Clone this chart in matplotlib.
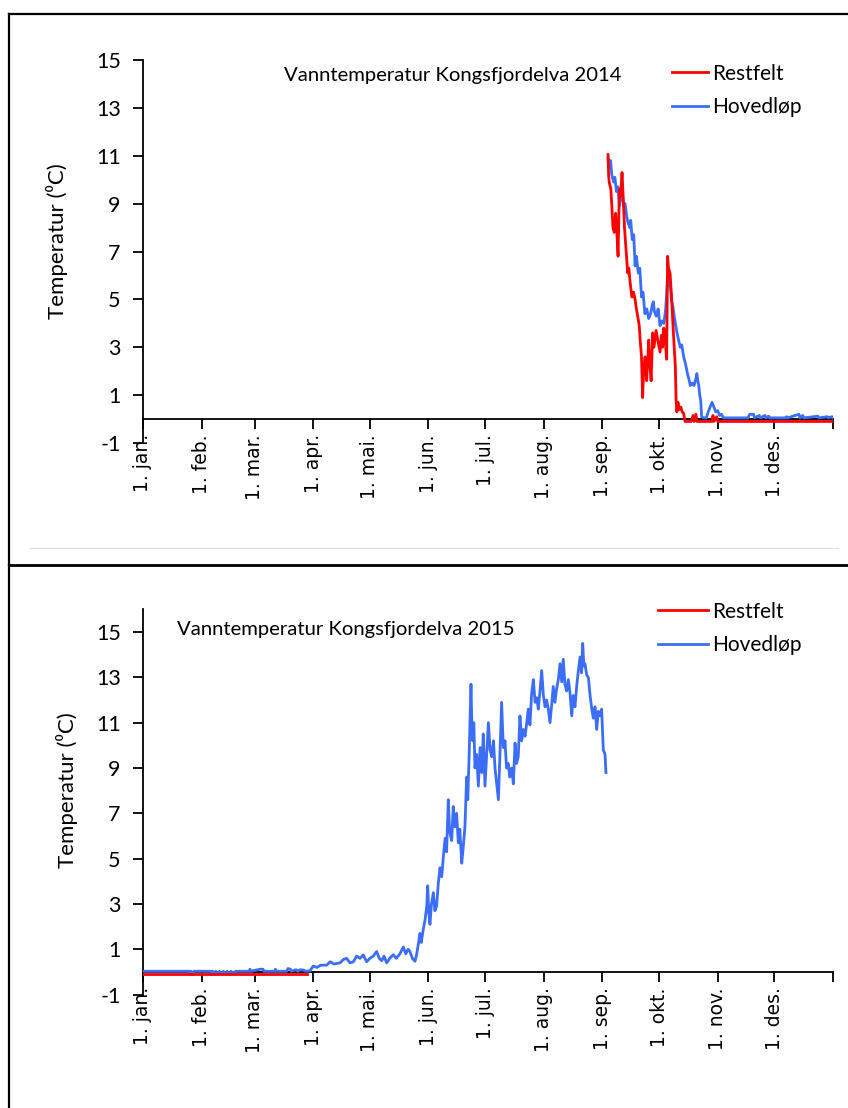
import matplotlib
matplotlib.use("Agg")
import matplotlib.pyplot as plt
from matplotlib.lines import Line2D

# Data (day of year from 1. jan = 0, temperature in deg C)
maaneder = ["1. jan.", "1. feb.", "1. mar.", "1. apr.", "1. mai.", "1. jun.",
            "1. jul.", "1. aug.", "1. sep.", "1. okt.", "1. nov.", "1. des.", ""]
maaned_start = [0, 31, 59, 90, 120, 151, 181, 212, 243, 273, 304, 334, 365]
y_ticks = [-1, 1, 3, 5, 7, 9, 11, 13, 15]

# 2014 - Restfelt
rest14_dag = [246.0, 246.3, 246.6, 247.5, 248.0, 248.6, 249.3, 250.0, 250.6, 251.3,
              252.0, 252.6, 253.4, 254.0, 254.7, 255.5, 256.4, 257.0, 257.7, 258.6,
              259.5, 260.3, 261.0, 261.9, 262.5, 263.0, 263.7, 264.3, 264.8, 265.6,
              266.4, 267.0, 267.5, 268.1, 268.8, 269.6, 270.3, 271.4, 272.3, 273.5,
              274.2, 274.8, 275.5, 276.2, 277.0, 277.5, 278.0, 278.8, 279.6, 280.3,
              281.0, 281.6, 282.0, 282.4, 283.0, 283.6, 284.5, 285.2, 286.0, 286.7,
              290.0, 291.0, 291.5, 292.5, 293.0, 301.0, 301.5, 302.0, 303.5, 304.0,
              365.0]
rest14_temp = [11.05, 10.2, 9.9, 9.6, 8.9, 8.0, 7.8, 8.6, 7.9, 6.8,
               9.6, 9.3, 10.3, 9.3, 8.0, 7.1, 6.1, 6.3, 5.7, 5.1,
               5.3, 5.0, 4.6, 4.2, 3.9, 3.3, 2.6, 0.9, 2.0, 2.6,
               1.6, 2.4, 3.3, 2.3, 1.6, 3.6, 3.0, 3.7, 3.3, 2.8,
               3.5, 3.0, 3.8, 3.3, 2.5, 6.8, 6.3, 6.1, 5.1, 4.0,
               3.0, 2.2, 0.8, 0.3, 0.7, 0.4, 0.5, 0.3, 0.25, -0.1,
               -0.1, 0.15, -0.1, 0.2, -0.1, -0.1, 0.15, -0.1, 0.1, -0.1,
               -0.1]

# 2014 - Hovedløp
hoved14_dag = [246.0, 246.5, 247.3, 248.0, 249.0, 249.6, 250.5, 251.3, 252.0, 252.8,
               253.5, 254.3, 255.0, 256.0, 256.6, 257.5, 258.0, 258.8, 259.6, 260.3,
               261.0, 262.0, 262.8, 263.7, 264.5, 265.5, 266.5, 267.5, 268.5, 269.5,
               270.0, 270.5, 271.5, 272.5, 273.5, 274.5, 275.5, 276.5, 277.5, 278.2,
               278.8, 279.5, 280.3, 281.0, 281.8, 282.5, 283.3, 284.2, 285.0, 286.0,
               287.0, 288.0, 289.0, 289.5, 290.5, 291.5, 292.5, 293.0, 293.5, 294.0,
               294.5, 295.0, 295.5, 296.5, 298.0, 299.0, 300.0, 301.0, 302.0, 303.0,
               304.0, 305.0, 306.0, 307.0, 320.0, 321.0, 323.0, 323.5, 326.0, 326.5,
               329.0, 329.5, 331.0, 331.5, 340.0, 340.5, 341.0, 347.0, 347.5, 349.0,
               349.5, 357.0, 357.5, 362.0, 362.5, 364.5, 365.0]
hoved14_temp = [10.9, 10.5, 10.8, 10.2, 9.9, 10.1, 9.5, 9.7, 8.9, 9.3,
                9.4, 8.9, 9.0, 8.4, 8.2, 8.0, 8.3, 7.5, 7.7, 6.4,
                6.8, 6.1, 6.3, 5.1, 5.3, 4.4, 4.6, 4.2, 4.4, 4.8,
                4.9, 4.5, 4.3, 4.6, 3.9, 4.1, 4.0, 4.6, 5.95, 5.6,
                5.7, 5.0, 4.7, 4.3, 3.9, 3.6, 3.3, 3.0, 3.1, 2.6,
                2.3, 1.9, 1.6, 1.4, 1.5, 1.4, 1.7, 1.9, 1.6, 1.4,
                1.0, 0.8, 0.1, 0.05, 0.05, 0.3, 0.5, 0.7, 0.5, 0.3,
                0.35, 0.15, 0.2, 0.05, 0.05, 0.2, 0.2, 0.05, 0.15, 0.05,
                0.15, 0.05, 0.12, 0.05, 0.05, 0.1, 0.05, 0.2, 0.05, 0.15,
                0.05, 0.12, 0.05, 0.1, 0.05, 0.1, 0.05]

# 2015 - Restfelt
rest15_dag = [0.0, 86.5]
rest15_temp = [-0.1, -0.1]

# 2015 - Hovedløp
hoved15_dag = [0.0, 24.5, 25.0, 25.5, 26.5, 27.0, 36.0, 36.3, 37.0, 38.0,
               38.5, 40.0, 40.5, 42.0, 42.5, 44.0, 44.5, 46.0, 46.5, 48.5,
               49.0, 56.3, 56.6, 57.0, 62.0, 63.5, 64.0, 69.7, 70.0, 70.5,
               76.0, 76.7, 78.0, 78.5, 81.0, 82.0, 83.0, 85.0, 86.0, 88.3,
               90.1, 92.0, 94.0, 97.2, 99.0, 101.0, 104.2, 106.0, 107.7, 109.5,
               111.3, 113.0, 114.8, 116.5, 118.3, 120.0, 121.8, 123.6, 125.0, 126.3,
               127.5, 128.9, 130.5, 132.4, 134.0, 135.9, 137.7, 139.0, 140.2, 141.2,
               142.5, 143.9, 144.8, 145.6, 146.5, 147.2, 148.3, 149.2, 150.1, 150.6,
               151.2, 151.8, 152.6, 153.6, 154.4, 155.3, 156.2, 157.1, 158.0, 158.9,
               159.8, 160.6, 161.5, 162.2, 163.3, 164.1, 165.0, 165.9, 166.8, 167.6,
               168.6, 169.4, 170.3, 171.2, 171.8, 172.5, 173.5, 174.0, 174.4, 175.0,
               175.6, 176.5, 177.4, 178.3, 179.2, 180.0, 180.9, 181.8, 182.7, 183.6,
               184.5, 185.4, 186.2, 187.1, 188.0, 188.9, 189.7, 190.6, 191.5, 192.3,
               193.2, 194.0, 195.0, 195.9, 196.8, 197.6, 198.5, 199.4, 200.3, 201.2,
               202.1, 203.0, 203.8, 204.7, 205.6, 206.5, 207.4, 208.3, 209.1, 210.0,
               210.9, 211.8, 212.7, 213.5, 214.4, 215.3, 216.2, 217.0, 217.9, 218.8,
               219.7, 220.6, 221.5, 222.3, 223.2, 224.1, 225.0, 225.9, 226.8, 227.6,
               228.5, 229.4, 230.3, 231.2, 232.0, 232.6, 233.2, 233.8, 234.7, 235.6,
               236.5, 237.4, 238.2, 239.1, 240.0, 240.8, 241.7, 242.6, 243.1, 243.5,
               244.4, 244.9]
hoved15_temp = [0.03, 0.03, -0.12, 0.03, -0.12, 0.03, 0.03, -0.12, 0.03, -0.12,
                0.03, -0.1, 0.03, -0.12, 0.03, -0.1, 0.03, -0.12, 0.03, -0.1,
                0.03, 0.03, 0.12, 0.03, 0.12, 0.12, 0.03, 0.03, 0.12, 0.03,
                0.03, 0.15, 0.12, 0.03, 0.1, 0.03, 0.1, 0.08, 0.03, 0.05,
                0.26, 0.2, 0.3, 0.3, 0.45, 0.35, 0.4, 0.55, 0.6, 0.4,
                0.45, 0.7, 0.6, 0.75, 0.45, 0.6, 0.7, 0.9, 0.6, 0.5,
                0.7, 0.4, 0.6, 0.76, 0.6, 0.8, 1.1, 0.8, 1.0, 0.9,
                0.6, 0.47, 0.8, 1.2, 1.7, 1.3, 1.9, 2.3, 2.9, 3.8,
                2.6, 2.1, 3.0, 3.5, 2.7, 2.9, 3.9, 4.6, 4.2, 5.1,
                5.9, 5.3, 7.6, 6.2, 5.8, 7.3, 6.4, 7.0, 5.7, 6.3,
                4.8, 5.5, 6.4, 8.6, 7.6, 9.5, 12.7, 10.8, 10.2, 11.0,
                9.0, 9.6, 8.2, 9.9, 8.8, 10.5, 8.2, 9.6, 11.0, 9.8,
                9.5, 10.2, 9.0, 8.3, 7.6, 9.8, 11.9, 9.9, 10.2, 9.0,
                9.2, 8.6, 9.0, 8.3, 10.1, 9.2, 9.5, 11.3, 10.2, 10.7,
                10.4, 11.0, 11.6, 10.9, 12.3, 12.9, 11.9, 12.1, 11.6, 12.4,
                13.3, 12.2, 11.7, 12.0, 11.6, 11.0, 11.8, 12.6, 11.9, 12.5,
                12.9, 13.6, 12.8, 13.8, 12.7, 12.4, 12.9, 12.3, 11.3, 12.2,
                11.7, 12.6, 13.3, 13.9, 13.2, 14.5, 13.5, 13.6, 13.1, 13.0,
                12.2, 11.6, 11.2, 11.7, 10.7, 11.5, 11.3, 11.6, 10.6, 9.8,
                9.6, 8.8]

W, H = 848, 1108
fig = plt.figure(figsize=(W / 100, H / 100), dpi=100)
fig.patch.set_facecolor("white")

rod = "#ff0000"
blaa = "#3b6df5"


# Helper: pixel position (from top-left) -> figure fraction
def fx(px):
    return px / W


def fy(py):
    return 1 - py / H


def tegn_panel(ax, ymax, rest_dag, rest_temp, hoved_dag, hoved_temp,
               tittel, tittel_xy, legend_xy, handle_len, ylabel_xy):
    # Data lines
    ax.plot(hoved_dag, hoved_temp, color=blaa, lw=2.0, zorder=4, label="Hovedløp")
    ax.plot(rest_dag, rest_temp, color=rod, lw=2.0, zorder=4, label="Restfelt")

    ax.set_xlim(0, 365)
    ax.set_ylim(-1, ymax)

    # Axis at y = 0, like Excel
    ax.spines["bottom"].set_position(("data", 0))
    ax.spines["top"].set_visible(False)
    ax.spines["right"].set_visible(False)
    ax.spines["left"].set_linewidth(1.3)
    ax.spines["bottom"].set_linewidth(1.3)

    ax.set_xticks(maaned_start)
    ax.set_xticklabels(maaneder, rotation=90, fontsize=13.5, family="DejaVu Sans")
    ax.set_yticks(y_ticks)
    ax.set_yticklabels([str(v) for v in y_ticks], fontsize=15.5, family="Lato")
    ax.tick_params(axis="x", direction="out", length=7, width=1.3, pad=4)
    ax.tick_params(axis="y", direction="out", length=7, width=1.3, pad=9)

    # Title inside the plot area
    fig.text(fx(tittel_xy[0]), fy(tittel_xy[1]), tittel, ha="center", va="center",
             fontsize=14.6, family="Lato")

    # Y label
    fig.text(fx(ylabel_xy[0]), fy(ylabel_xy[1]), "Temperatur (\u2070C)", rotation=90,
             ha="center", va="center", fontsize=16, family=["Lato", "DejaVu Sans"])

    # Legend: Restfelt first, then Hovedløp
    h, l = ax.get_legend_handles_labels()
    ax.legend([h[1], h[0]], [l[1], l[0]], loc="upper left",
              bbox_to_anchor=(fx(legend_xy[0]), fy(legend_xy[1])),
              bbox_transform=fig.transFigure, frameon=False,
              prop={"family": "Lato", "size": 15}, handlelength=handle_len,
              handletextpad=0.19, labelspacing=0.67, borderpad=0, borderaxespad=0)


# Top panel (2014)
ax1 = fig.add_axes([fx(143), fy(443), fx(833) - fx(143), fy(60) - fy(443)])
tegn_panel(ax1, 15, rest14_dag, rest14_temp, hoved14_dag, hoved14_temp,
           "Vanntemperatur Kongsfjordelva 2014", (453, 75), (672, 63.5), 1.73, (57, 241))

# Bottom panel (2015)
ax2 = fig.add_axes([fx(143), fy(994.6), fx(833) - fx(143), fy(609.4) - fy(994.6)])
tegn_panel(ax2, 16, rest15_dag, rest15_temp, hoved15_dag, hoved15_temp,
           "Vanntemperatur Kongsfjordelva 2015", (346, 630), (658, 601.5), 2.4, (67, 790))

# Panel frames and separator line
fig.add_artist(Line2D([fx(8.5), fx(8.5)], [fy(14), fy(565)], transform=fig.transFigure,
                      color="black", lw=1.6))
fig.add_artist(Line2D([fx(8.5), fx(W)], [fy(14), fy(14)], transform=fig.transFigure,
                      color="black", lw=1.6))
fig.add_artist(Line2D([fx(30), fx(838)], [fy(548), fy(548)], transform=fig.transFigure,
                      color="#dedede", lw=0.8))
fig.add_artist(Line2D([fx(8.5), fx(W)], [fy(565), fy(565)], transform=fig.transFigure,
                      color="black", lw=2.0))
fig.add_artist(Line2D([fx(8.5), fx(8.5)], [fy(565), fy(H)], transform=fig.transFigure,
                      color="black", lw=1.6))

plt.savefig("out.png", dpi=100)
plt.close()
